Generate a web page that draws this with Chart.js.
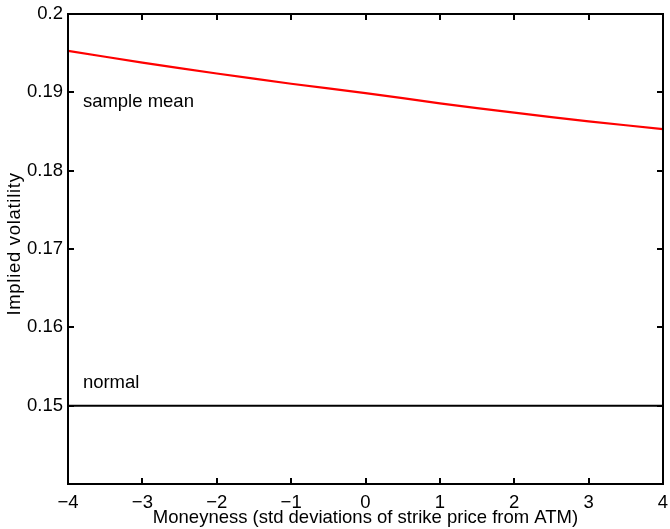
<!DOCTYPE html>
<html>
<head>
<meta charset="utf-8">
<script src="https://cdn.jsdelivr.net/npm/chart.js@4"></script>
<style>
  html, body { margin: 0; padding: 0; background: #fff; }
  #wrap { width: 670px; height: 529px; }
</style>
</head>
<body>
<div id="wrap"><canvas id="chart" width="670" height="529"></canvas></div>
<script>
// moneyness grid and the two implied volatility curves
const moneyness = [-4, -3, -2, -1, 0, 1, 2, 3, 4];
const sampleMean = [0.1953, 0.1938, 0.1924, 0.1911, 0.1899, 0.1886, 0.1874, 0.1863, 0.1853];
const normalVol = [0.15, 0.15, 0.15, 0.15, 0.15, 0.15, 0.15, 0.15, 0.15];
const xTicks = [-4, -3, -2, -1, 0, 1, 2, 3, 4];
const yTicks = [0.14, 0.15, 0.16, 0.17, 0.18, 0.19, 0.2];

const FONT = '"Liberation Sans", Arial, Helvetica, sans-serif';
const FS = 18.5;

// text labels placed in data coordinates
const curveLabels = [
  { text: 'sample mean', x: -3.8, y: 0.18817 },
  { text: 'normal', x: -3.8, y: 0.15222 }
];
const yTitle = 'Implied volatility';

// matlab style box with inward ticks + curve labels
const matlabAxes = {
  id: 'matlabAxes',
  afterDraw(chart) {
    const { ctx, chartArea: a, scales } = chart;
    const tl = 6;
    ctx.save();
    ctx.strokeStyle = '#000';
    ctx.lineWidth = 2;
    ctx.beginPath();
    xTicks.forEach(v => {
      const px = Math.round(scales.x.getPixelForValue(v));
      ctx.moveTo(px, a.bottom); ctx.lineTo(px, a.bottom - tl);
      ctx.moveTo(px, a.top); ctx.lineTo(px, a.top + tl);
    });
    yTicks.forEach(v => {
      const py = Math.round(scales.y.getPixelForValue(v));
      ctx.moveTo(a.left, py); ctx.lineTo(a.left + tl, py);
      ctx.moveTo(a.right, py); ctx.lineTo(a.right - tl, py);
    });
    ctx.stroke();
    ctx.strokeRect(a.left, a.top, a.right - a.left, a.bottom - a.top);

    ctx.fillStyle = '#000';
    ctx.font = FS + 'px ' + FONT;
    ctx.textAlign = 'left';
    ctx.textBaseline = 'alphabetic';
    curveLabels.forEach(l => {
      ctx.fillText(l.text, scales.x.getPixelForValue(l.x), scales.y.getPixelForValue(l.y));
    });

    // y title, a bit wider spaced like the original
    ctx.translate(15, (a.top + a.bottom) / 2 - 5);
    ctx.rotate(-Math.PI / 2);
    ctx.letterSpacing = '0.7px';
    ctx.textAlign = 'center';
    ctx.textBaseline = 'middle';
    ctx.fillText(yTitle, 0, 0);
    ctx.restore();
  }
};

new Chart(document.getElementById('chart'), {
  type: 'line',
  data: {
    datasets: [
      {
        label: 'sample mean',
        data: moneyness.map((x, i) => ({ x, y: sampleMean[i] })),
        borderColor: '#ff0000',
        borderWidth: 2.2,
        pointRadius: 0,
        tension: 0.3
      },
      {
        label: 'normal',
        data: moneyness.map((x, i) => ({ x, y: normalVol[i] })),
        borderColor: '#000000',
        borderWidth: 2,
        pointRadius: 0
      }
    ]
  },
  options: {
    responsive: false,
    animation: false,
    layout: { padding: { top: 14, right: 7, left: 0, bottom: 0 } },
    plugins: {
      legend: { display: false },
      tooltip: { enabled: false }
    },
    scales: {
      x: {
        type: 'linear',
        min: -4,
        max: 4,
        afterFit: s => { s.height = 45; s.paddingLeft = 0; s.paddingRight = 0; },
        afterBuildTicks: s => { s.ticks = xTicks.map(v => ({ value: v })); },
        grid: { display: false, drawTicks: false },
        border: { display: false },
        ticks: {
          padding: 8,
          color: '#000',
          font: { family: FONT, size: FS },
          maxRotation: 0,
          callback: v => String(v).replace('-', '\u2212')
        },
        title: {
          display: true,
          text: 'Moneyness (std deviations of strike price from ATM)',
          color: '#000',
          font: { family: FONT, size: FS },
          padding: { top: 0, bottom: 0 }
        }
      },
      y: {
        min: 0.14,
        max: 0.2,
        afterFit: s => { s.width = 68; s.paddingTop = 0; s.paddingBottom = 0; },
        afterBuildTicks: s => { s.ticks = yTicks.map(v => ({ value: v })); },
        grid: { display: false, drawTicks: false },
        border: { display: false },
        ticks: {
          padding: 5,
          color: '#000',
          font: { family: FONT, size: FS },
          callback: v => (Math.abs(v - 0.14) < 1e-9 ? '' : String(Math.round(v * 100) / 100))
        },
        title: { display: false }
      }
    }
  },
  plugins: [matlabAxes]
});
</script>
</body>
</html>
